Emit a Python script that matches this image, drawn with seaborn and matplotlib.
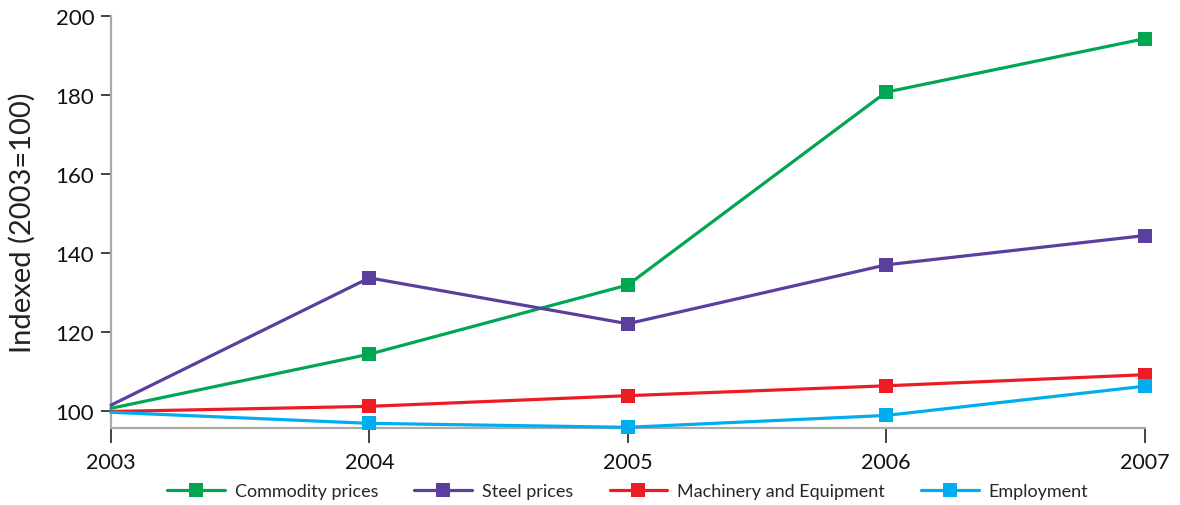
import matplotlib
matplotlib.use("Agg")
import matplotlib.pyplot as plt
from matplotlib.lines import Line2D
import seaborn as sns
import pandas as pd

years = [2003, 2004, 2005, 2006, 2007]
commodity = [100.8, 114.5, 132.0, 180.8, 194.3]
steel = [101.6, 133.8, 122.2, 137.1, 144.5]
machinery = [100.0, 101.3, 104.0, 106.5, 109.3]
employment = [99.8, 97.0, 96.0, 99.0, 106.4]

series_names = ["Commodity prices", "Steel prices", "Machinery and Equipment", "Employment"]
series_values = [commodity, steel, machinery, employment]
colors = ["#00a651", "#5a3f9c", "#ed1c24", "#00aeef"]
y_ticks = [100, 120, 140, 160, 180, 200]

df = pd.DataFrame(
    [(y, name, v) for name, vals in zip(series_names, series_values) for y, v in zip(years, vals)],
    columns=["year", "series", "value"],
)

sns.set_style("white")
plt.rcParams["font.family"] = ["Lato", "DejaVu Sans"]

fig = plt.figure(figsize=(11.8, 5.06), dpi=100)
ax = fig.add_axes([0.094, 0.152, 0.876, 0.814])

for i, (name, color) in enumerate(zip(series_names, colors)):
    sub = df[df["series"] == name]
    sns.lineplot(
        data=sub, x="year", y="value", ax=ax, color=color, linewidth=2.3,
        marker="s", markersize=10, markeredgewidth=0, markevery=[1, 2, 3, 4],
        clip_on=False, zorder=3 + i, legend=False,
    )

ax.set_xlim(2003, 2007)
ax.set_ylim(95.8, 200)
ax.set_xticks(years)
ax.set_xticklabels([str(y) for y in years])
ax.set_yticks(y_ticks)
ax.set_xlabel("")
ax.set_ylabel("Indexed (2003=100)", fontsize=21, color="#222222")
ax.yaxis.set_label_coords(-0.073, 0.5)

for side in ["top", "right"]:
    ax.spines[side].set_visible(False)
for side in ["left", "bottom"]:
    ax.spines[side].set_color("#aaaaaa")
    ax.spines[side].set_linewidth(1.6)

ax.tick_params(axis="y", which="both", left=True, length=7, width=1.2, color="#222222",
               labelsize=16, labelcolor="#111111", pad=5)
ax.tick_params(axis="x", which="both", bottom=True, length=11, width=1.2, color="#222222",
               labelsize=15.5, labelcolor="#111111", pad=6)

handles = [
    Line2D([0], [0], color=c, linewidth=2.3, marker="s", markersize=10, markeredgewidth=0)
    for c in colors
]
fig.legend(handles, series_names, loc="center", bbox_to_anchor=(0.532, 0.027), ncol=4,
           frameon=False, fontsize=13, handlelength=3.2, columnspacing=2.0, handletextpad=0.55)

fig.savefig("out.png", dpi=100)
